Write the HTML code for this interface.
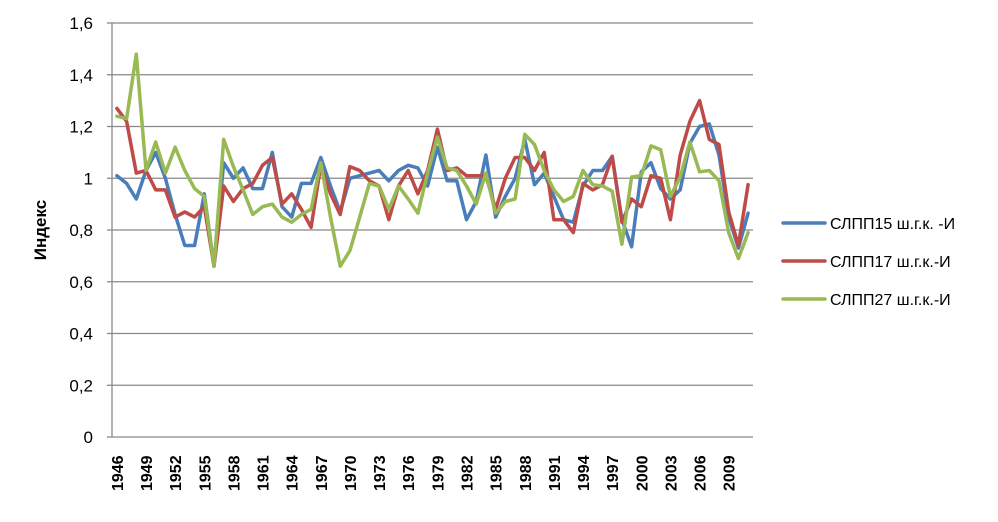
<!DOCTYPE html>
<html><head><meta charset="utf-8"><style>
body{margin:0;background:#fff;}
svg{display:block;font-family:"Liberation Sans","DejaVu Sans",sans-serif;}
</style></head><body>
<svg id="c" width="998" height="522" viewBox="0 0 998 522" xmlns="http://www.w3.org/2000/svg">
<rect width="998" height="522" fill="#fff"/>
<g id="grid" stroke="#888" stroke-width="1.3"></g>
<g id="ylab" font-size="17" fill="#000" text-anchor="end"></g>
<g id="xlab" font-size="16" font-weight="bold" fill="#000"></g>
<text x="46" y="230" font-size="17" font-weight="bold" text-anchor="middle" transform="rotate(-90 46 230)">Индекс</text>
<g id="series" fill="none" stroke-width="3.5" stroke-linejoin="round" stroke-linecap="round"></g>
<g font-size="16" fill="#000">
<line x1="783" y1="223" x2="825" y2="223" stroke="#4a7ebb" stroke-width="3.5" stroke-linecap="round"/>
<text x="830" y="229">СЛПП15 ш.г.к. -И</text>
<line x1="783" y1="261" x2="825" y2="261" stroke="#be4b48" stroke-width="3.5" stroke-linecap="round"/>
<text x="830" y="267">СЛПП17 ш.г.к.-И</text>
<line x1="783" y1="299" x2="825" y2="299" stroke="#98b954" stroke-width="3.5" stroke-linecap="round"/>
<text x="830" y="305">СЛПП27 ш.г.к.-И</text>
</g>
</svg>
<script>
var NS="http://www.w3.org/2000/svg";
function el(t,a,p,txt){var e=document.createElementNS(NS,t);for(var k in a)e.setAttribute(k,a[k]);if(txt!==undefined)e.textContent=txt;p.appendChild(e);return e;}
var L=112,R=753,T=23,B=437;
function Y(v){return B-(v/1.6)*(B-T);}
var g=document.getElementById('grid'),yl=document.getElementById('ylab'),xl=document.getElementById('xlab');
var labs=["0","0,2","0,4","0,6","0,8","1","1,2","1,4","1,6"];
for(var i=0;i<=8;i++){var y=Y(i*0.2);
 el('line',{x1:L,y1:y,x2:R,y2:y},g);
 el('line',{x1:L-5,y1:y,x2:L,y2:y},g);
 el('text',{x:93,y:y+6},yl,labs[i]);}
el('line',{x1:L,y1:T,x2:L,y2:B},g);
var n=66,w=(R-L)/n;
function X(i){return L+w*(i+0.5);}
for(var yr=1946;yr<=2009;yr+=3){var x=X(yr-1946)+6;
 el('text',{x:x,y:491,transform:'rotate(-90 '+x+' 491)'},xl,String(yr));}
var blue=[1.01,0.98,0.92,1.03,1.10,1.0,0.86,0.74,0.74,0.94,0.66,1.06,1.0,1.04,0.96,0.96,1.10,0.89,0.85,0.98,0.98,1.08,0.97,0.87,1.0,1.01,1.02,1.03,0.99,1.03,1.05,1.04,0.97,
1.12,0.99,0.99,0.84,0.91,1.09,0.85,0.93,1.0,1.15,0.975,1.02,0.93,0.84,0.83,0.97,1.03,1.03,1.085,0.84,0.735,1.025,1.06,0.96,0.92,0.955,1.135,1.20,1.21,1.09,0.85,0.73,0.865];
var red=[1.27,1.22,1.02,1.03,0.955,0.955,0.85,0.87,0.85,0.89,0.66,0.97,0.91,0.96,0.98,1.05,1.08,0.90,0.94,0.88,0.81,1.05,0.94,0.86,1.045,1.03,0.99,0.97,0.84,0.97,1.03,0.94,1.03,
1.19,1.03,1.04,1.01,1.01,1.01,0.88,1.0,1.08,1.08,1.03,1.10,0.84,0.84,0.79,0.98,0.955,0.975,1.085,0.83,0.92,0.89,1.01,1.0,0.84,1.09,1.22,1.30,1.15,1.13,0.87,0.74,0.975];
var green=[1.24,1.23,1.48,1.03,1.14,1.02,1.12,1.03,0.96,0.93,0.66,1.15,1.045,0.955,0.86,0.89,0.90,0.85,0.83,0.86,0.88,1.06,0.85,0.66,0.72,0.85,0.98,0.97,0.88,0.97,0.92,0.865,1.02,
1.16,1.04,1.03,0.97,0.90,1.02,0.865,0.91,0.92,1.17,1.13,1.03,0.955,0.91,0.93,1.03,0.975,0.97,0.95,0.745,1.005,1.01,1.125,1.11,0.93,1.005,1.14,1.025,1.03,0.99,0.79,0.69,0.79];
var s=document.getElementById('series');
function draw(d,c){var p=d.map(function(v,i){return X(i).toFixed(1)+','+Y(v).toFixed(1);}).join(' ');el('polyline',{points:p,stroke:c},s);}
draw(blue,'#4a7ebb');draw(red,'#be4b48');draw(green,'#98b954');
</script>
</body></html>
